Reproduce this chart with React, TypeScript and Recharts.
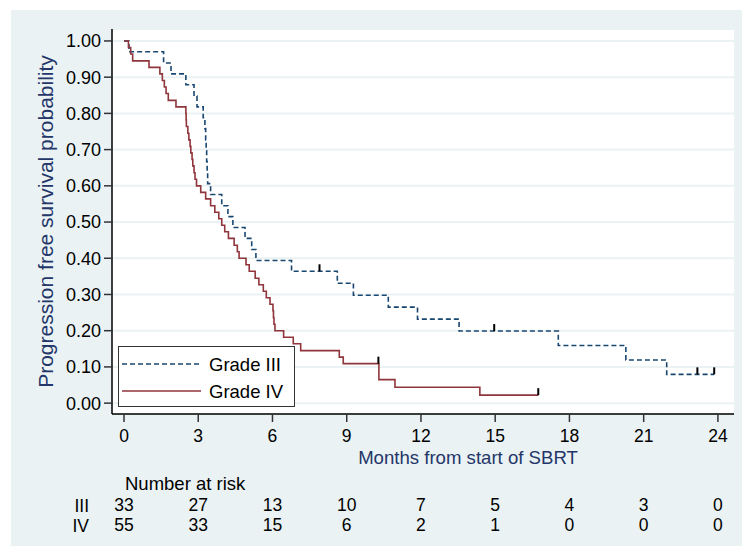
import React from 'react';
import { ComposedChart, Line, Scatter, XAxis, YAxis, CartesianGrid } from 'recharts';

const xTicks = [0, 3, 6, 9, 12, 15, 18, 21, 24];
const yTicks = [0, 0.1, 0.2, 0.3, 0.4, 0.5, 0.6, 0.7, 0.8, 0.9, 1.0];
const riskIII = [33, 27, 13, 10, 7, 5, 4, 3, 0];
const riskIV = [55, 33, 15, 6, 2, 1, 0, 0, 0];

const gradeIII = [
  { t: 0, s: 1.0 }, { t: 0.2, s: 0.970 }, { t: 1.6, s: 0.939 }, { t: 1.9, s: 0.909 },
  { t: 2.5, s: 0.879 }, { t: 2.83, s: 0.848 }, { t: 2.95, s: 0.818 }, { t: 3.2, s: 0.788 },
  { t: 3.27, s: 0.758 }, { t: 3.3, s: 0.727 }, { t: 3.32, s: 0.697 }, { t: 3.34, s: 0.667 },
  { t: 3.36, s: 0.636 }, { t: 3.38, s: 0.606 }, { t: 3.5, s: 0.576 }, { t: 3.95, s: 0.545 },
  { t: 4.2, s: 0.515 }, { t: 4.4, s: 0.485 }, { t: 4.89, s: 0.455 }, { t: 5.16, s: 0.424 },
  { t: 5.33, s: 0.394 }, { t: 6.77, s: 0.364 }, { t: 8.62, s: 0.331 }, { t: 9.27, s: 0.298 },
  { t: 10.68, s: 0.265 }, { t: 11.86, s: 0.232 }, { t: 13.54, s: 0.199 }, { t: 17.55, s: 0.159 },
  { t: 20.28, s: 0.119 }, { t: 21.93, s: 0.0795 }, { t: 23.85, s: 0.0795 },
];

const gradeIV = [
  { t: 0, s: 1.0 }, { t: 0.18, s: 0.982 }, { t: 0.27, s: 0.964 }, { t: 0.35, s: 0.945 },
  { t: 1.01, s: 0.927 }, { t: 1.45, s: 0.909 }, { t: 1.55, s: 0.891 }, { t: 1.63, s: 0.873 },
  { t: 1.7, s: 0.855 }, { t: 1.79, s: 0.836 }, { t: 2.1, s: 0.818 }, { t: 2.5, s: 0.8 },
  { t: 2.51, s: 0.782 }, { t: 2.52, s: 0.764 }, { t: 2.58, s: 0.745 }, { t: 2.62, s: 0.727 },
  { t: 2.67, s: 0.709 }, { t: 2.7, s: 0.691 }, { t: 2.75, s: 0.673 }, { t: 2.78, s: 0.655 },
  { t: 2.83, s: 0.636 }, { t: 2.87, s: 0.618 }, { t: 2.93, s: 0.6 }, { t: 3.1, s: 0.582 },
  { t: 3.3, s: 0.564 }, { t: 3.5, s: 0.545 }, { t: 3.67, s: 0.527 }, { t: 3.83, s: 0.509 },
  { t: 3.95, s: 0.491 }, { t: 4.07, s: 0.473 }, { t: 4.22, s: 0.455 }, { t: 4.45, s: 0.436 },
  { t: 4.58, s: 0.418 }, { t: 4.65, s: 0.4 }, { t: 4.93, s: 0.382 }, { t: 5.06, s: 0.364 },
  { t: 5.3, s: 0.345 }, { t: 5.45, s: 0.327 }, { t: 5.63, s: 0.309 }, { t: 5.75, s: 0.291 },
  { t: 5.9, s: 0.273 }, { t: 6.02, s: 0.255 }, { t: 6.04, s: 0.236 }, { t: 6.06, s: 0.218 },
  { t: 6.1, s: 0.2 }, { t: 6.45, s: 0.182 }, { t: 6.84, s: 0.164 }, { t: 7.14, s: 0.145 },
  { t: 8.7, s: 0.127 }, { t: 8.86, s: 0.109 }, { t: 10.3, s: 0.065 }, { t: 10.95, s: 0.044 },
  { t: 14.38, s: 0.022 }, { t: 16.74, s: 0.022 },
];

const censorIII = [
  { t: 7.9, s: 0.364 }, { t: 14.96, s: 0.199 }, { t: 23.17, s: 0.0795 }, { t: 23.85, s: 0.0795 },
];
const censorIV = [{ t: 10.28, s: 0.109 }, { t: 16.74, s: 0.022 }];

const FONT = '"Liberation Sans", Arial, sans-serif';
const NAVY = '#1A476F';
const MAROON = '#90353B';
const TITLE = '#243669';
const X_DOMAIN: [number, number] = [-0.485, 24.65];

const CensorMark = (props: any) => {
  const { cx, cy } = props;
  if (cx == null || cy == null) return null;
  return <line x1={cx} x2={cx} y1={cy} y2={cy - 7} stroke="#000" strokeWidth={2} />;
};

const YTitle = (props: any) => {
  const vb = props.viewBox || { x: 0, y: 29, width: 112, height: 385 };
  const cx = vb.x + 45;
  const cy = vb.y + vb.height / 2;
  return (
    <text x={cx} y={cy} transform={`rotate(-90 ${cx} ${cy})`} textAnchor="middle"
      dominantBaseline="central" fill={TITLE} fontSize={21} fontFamily={FONT}>
      Progression free survival probability
    </text>
  );
};

const XTitle = (props: any) => {
  const vb = props.viewBox || { x: 112, y: 414, width: 622, height: 56 };
  return (
    <text x={vb.x + vb.width / 2 + 45} y={vb.y + 50} textAnchor="middle"
      fill={TITLE} fontSize={18.6} fontFamily={FONT}>
      Months from start of SBRT
    </text>
  );
};

const RiskIIILabel = (props: any) => {
  const vb = props.viewBox || { x: 112, y: 470, width: 622, height: 36 };
  return (
    <g>
      <text x={vb.x + 13} y={vb.y + 20} fill="#000" fontSize={18.5} fontFamily={FONT}>Number at risk</text>
      <text x={vb.x - 23} y={vb.y + 42} textAnchor="end" fill="#000" fontSize={17.5} fontFamily={FONT}>III</text>
    </g>
  );
};

const RiskIVLabel = (props: any) => {
  const vb = props.viewBox || { x: 112, y: 506, width: 622, height: 30 };
  return (
    <text x={vb.x - 23} y={vb.y + 26} textAnchor="end" fill="#000" fontSize={17.5} fontFamily={FONT}>IV</text>
  );
};

export default function App() {
  return (
    <div style={{ position: 'absolute', left: 0, top: 0, width: 742, height: 546, background: '#fff', fontFamily: FONT }}>
      <div style={{ position: 'absolute', left: 11, top: 10, width: 731, height: 536, background: '#EAF2F3' }} />
      <div style={{ position: 'absolute', left: 0, top: 0 }}>
        <ComposedChart width={742} height={546} margin={{ top: 29, right: 8, left: 0, bottom: 10 }}>
          <CartesianGrid vertical={false} horizontal stroke="#EAF2F3" strokeWidth={2} fill="#ffffff" fillOpacity={1} />
          <XAxis dataKey="t" type="number" domain={X_DOMAIN} allowDataOverflow ticks={xTicks} interval={0}
            height={56} tickSize={8} tickMargin={8} stroke="#000" strokeWidth={1.5}
            tick={{ fill: '#000', fontSize: 17.5, fontFamily: FONT }} tickLine={{ stroke: '#333', strokeWidth: 1.5 }}
            label={<XTitle />} />
          <XAxis xAxisId="riskIII" dataKey="t" type="number" domain={X_DOMAIN} allowDataOverflow ticks={xTicks}
            interval={0} height={36} axisLine={false} tickLine={false} tickSize={0} tickMargin={29}
            tick={{ fill: '#000', fontSize: 17.5, fontFamily: FONT }}
            tickFormatter={(v: number) => String(riskIII[xTicks.indexOf(v)])}
            label={<RiskIIILabel />} />
          <XAxis xAxisId="riskIV" dataKey="t" type="number" domain={X_DOMAIN} allowDataOverflow ticks={xTicks}
            interval={0} height={30} axisLine={false} tickLine={false} tickSize={0} tickMargin={13}
            tick={{ fill: '#000', fontSize: 17.5, fontFamily: FONT }}
            tickFormatter={(v: number) => String(riskIV[xTicks.indexOf(v)])}
            label={<RiskIVLabel />} />
          <YAxis type="number" domain={[-0.03, 1.033]} allowDataOverflow ticks={yTicks} interval={0}
            width={112} tickSize={8} tickMargin={3} stroke="#000" strokeWidth={1.5}
            tick={{ fill: '#000', fontSize: 18, fontFamily: FONT }} tickLine={{ stroke: '#333', strokeWidth: 1.5 }}
            tickFormatter={(v: number) => v.toFixed(2)} label={<YTitle />} />
          <Line data={gradeIII} dataKey="s" type="stepAfter" stroke={NAVY} strokeWidth={1.6}
            strokeDasharray="5 3" dot={false} activeDot={false} isAnimationActive={false} name="Grade III" />
          <Line data={gradeIV} dataKey="s" type="stepAfter" stroke={MAROON} strokeWidth={1.6}
            dot={false} activeDot={false} isAnimationActive={false} name="Grade IV" />
          <Scatter data={censorIII} dataKey="s" shape={<CensorMark />} isAnimationActive={false} />
          <Scatter data={censorIV} dataKey="s" shape={<CensorMark />} isAnimationActive={false} />
        </ComposedChart>
      </div>
      <div style={{ position: 'absolute', left: 118, top: 346, width: 175, height: 59, border: '1px solid #333', background: '#fff' }}>
        <svg width={175} height={59} style={{ position: 'absolute', left: 0, top: 0 }}>
          <line x1={3} x2={82} y1={17} y2={17} stroke={NAVY} strokeWidth={1.6} strokeDasharray="5 3" />
          <line x1={3} x2={82} y1={44} y2={44} stroke={MAROON} strokeWidth={1.6} />
          <text x={90} y={24} fontSize={18.5} fontFamily={FONT} fill="#000">Grade III</text>
          <text x={90} y={51} fontSize={18.5} fontFamily={FONT} fill="#000">Grade IV</text>
        </svg>
      </div>
    </div>
  );
}
